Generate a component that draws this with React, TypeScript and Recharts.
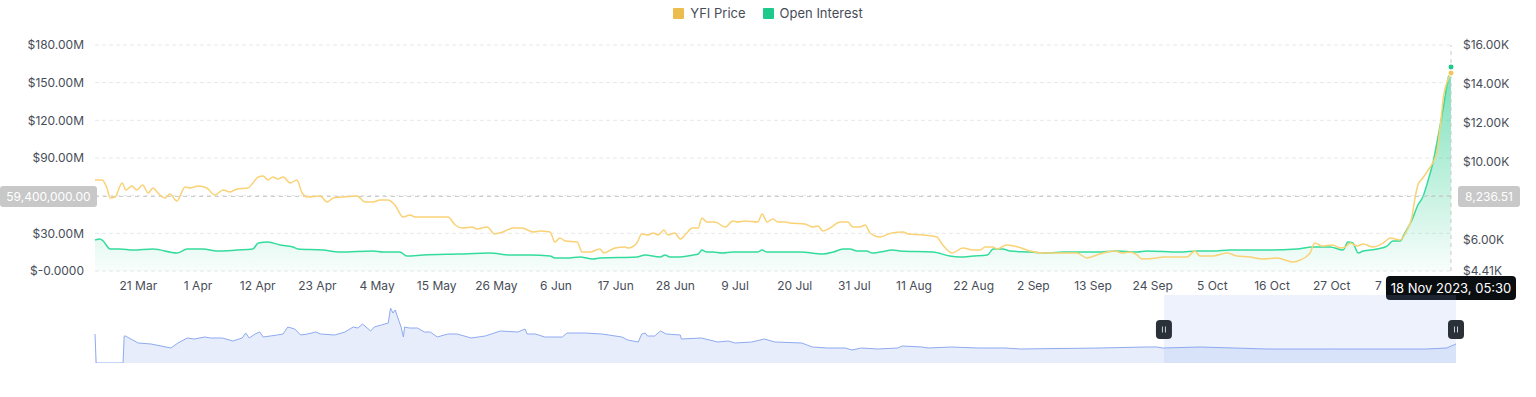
import React from 'react';
import {
  ComposedChart,
  AreaChart,
  Area,
  Line,
  XAxis,
  YAxis,
  CartesianGrid,
  ReferenceLine,
  ReferenceDot,
  ReferenceArea,
} from 'recharts';

const FONT = 'Inter, "Noto Sans", sans-serif';
const TEXT = '#474D57';
const PRICE_COLOR = '#ECBD4E';
const OI_COLOR = '#1DC98B';

// day offsets from 13 Mar 2023
const priceDays = [
  0, 1.3, 2.2, 2.8, 3.7, 5, 5.7, 6.8, 7.7, 8.8, 9.8, 10.7, 11.6, 12.9, 13.8, 15.1, 16.6, 17.5, 19, 20.6,
  22.1, 23.6, 24.9, 26.2, 28.2, 29.1, 30.1, 31, 31.9, 32.8, 33.7, 34.7, 36, 37.2, 38.2, 39.1, 41.5, 42.8, 43.9, 45.7,
  48.3, 49.8, 51.3, 52.5, 54, 55.3, 56.8, 58.1, 59, 65.1, 66.4, 67.8, 69.5, 70.4, 72.3, 73.7, 75.2, 77.1, 78.7, 80.8,
  82, 83.9, 84.8, 85.7, 86.7, 88.9, 89.8, 91.3, 93.1, 93.8, 95.9, 97.7, 98.3, 99.9, 100.8, 102, 102.9, 103.8, 104.9, 105.6,
  106.9, 107.9, 109.1, 110.1, 111.2, 111.9, 112.8, 114.3, 116.2, 117.6, 118.5, 119.8, 122.2, 123, 123.9, 125, 125.9, 127.2, 128.1, 130.9,
  132.2, 133.3, 134.2, 135.5, 137.4, 138.8, 139.7, 141, 142, 142.9, 144.7, 146.9, 149, 149.9, 152.7, 155.2, 156.3, 158, 160, 161.9,
  163.2, 164.1, 165.6, 166.3, 167.2, 168.1, 170.2, 172.4, 174.8, 178.5, 181, 182.9, 184.7, 186.6, 188.1, 189.3, 190.8, 192.1, 193, 195.8,
  196.9, 201.3, 202.8, 203.7, 206.1, 208.7, 210.5, 212.9, 215.3, 217.9, 220.9, 222.2, 224, 224.9, 226.2, 228.2, 229.5, 230.5, 231.4, 232.7,
  233.8, 235.6, 237.5, 238.8, 240.6, 241.9, 242.8, 243.4, 243.9, 244.8, 245.8, 246.7, 247.4, 248, 248.6, 249.4, 250,
];
const priceValues = [
  9077, 9077, 8667, 8154, 8205, 8923, 8564, 8769, 8564, 8821, 8410, 8667, 8410, 8154, 8359, 8000, 8718, 8667, 8769, 8667,
  8308, 8564, 8462, 8615, 8667, 8923, 9231, 9282, 9077, 9231, 9128, 9231, 8923, 9077, 8410, 8205, 8256, 7949, 8154, 8205,
  8256, 7949, 7949, 8051, 8051, 7795, 7179, 7282, 7179, 7179, 6769, 6615, 6667, 6564, 6667, 6308, 6410, 6615, 6615, 6410,
  6462, 6410, 5897, 6103, 5949, 5897, 5385, 5385, 5538, 5333, 5590, 5641, 5590, 5846, 6308, 6256, 6359, 6256, 6513, 6256,
  6359, 6051, 6359, 6615, 6615, 7128, 6923, 6923, 6667, 6974, 6923, 6974, 6923, 7333, 6923, 7077, 6923, 6923, 6872, 6821,
  6667, 6718, 6462, 6615, 6923, 6923, 6667, 6667, 6769, 6359, 6154, 6359, 6410, 6308, 6256, 6154, 5744, 5333, 5590, 5487,
  5487, 5641, 5641, 5538, 5641, 5744, 5641, 5436, 5333, 5333, 5333, 5077, 5231, 5385, 5436, 5333, 5385, 5231, 5026, 5077,
  5128, 5128, 5436, 5179, 5179, 5333, 5179, 5128, 5026, 5077, 4872, 4974, 5333, 5846, 5692, 5744, 5590, 5641, 5846, 5692,
  5795, 5641, 5846, 6103, 6000, 6513, 7179, 8205, 8821, 9179, 9590, 10000, 10513, 11795, 13333, 14205, 14560,
];

// open interest in $M
const oiDays = [
  0, 0.9, 1.5, 2.8, 4.6, 7, 10.7, 15.1, 17, 19.9, 22.5, 26.2, 29.1, 30.1, 31.9, 34.1, 36.5, 37.4, 42, 45.2,
  51.3, 53.1, 56.2, 57.5, 60.5, 66.7, 72.8, 76.5, 80.2, 83.9, 84.8, 87, 89.4, 91.8, 93.1, 99.9, 101.4, 104.2, 105.1, 106,
  107.9, 110.3, 111.2, 111.9, 112.8, 113.9, 115.6, 117.6, 122.1, 123, 123.9, 125.7, 130, 134.2, 136.1, 137.9, 139.2, 140.5, 142.3, 143.3,
  144.7, 147.1, 148.4, 154.5, 157.6, 159.5, 161.9, 164.5, 165.6, 167.4, 168.7, 172.4, 175.5, 178.5, 184.7, 188.4, 192.1, 193.9, 200, 203.2,
  206.1, 209.3, 215.3, 221.6, 224.5, 227.7, 230.1, 231, 231.9, 232.9, 233.8, 236.4, 238.2, 239.3, 240.6, 241.5, 242.8, 243.9, 244.8, 245.8,
  246.7, 247.6, 248.6, 249.4, 250,
];
const oiValues = [
  24.7, 25.5, 23.9, 17.5, 17.5, 16.7, 17.5, 14.3, 17.5, 17.5, 15.9, 16.7, 17.5, 22.3, 23.1, 20.7, 19.1, 17.5, 16.7, 15.1,
  15.9, 15.1, 15.1, 11.9, 12.7, 13.5, 14.3, 12.7, 12.7, 11.9, 10.4, 10.4, 11.2, 9.6, 10.4, 11.2, 12.7, 11.2, 12.7, 11.2,
  11.2, 12.7, 13.5, 16.7, 15.1, 15.1, 14.3, 15.1, 15.1, 16.7, 15.1, 15.1, 15.1, 13.5, 15.1, 17.5, 17.5, 15.9, 15.9, 14.3,
  15.1, 16.7, 15.9, 15.1, 11.9, 11.2, 11.9, 12.7, 17.5, 17.5, 15.9, 15.1, 14.3, 15.1, 15.1, 15.9, 15.1, 15.9, 15.1, 15.9,
  15.9, 16.7, 16.7, 17.5, 19.1, 19.1, 16.7, 23.1, 22.3, 14.3, 15.9, 17.5, 19.9, 23.9, 23.9, 30.3, 40.6, 52.6, 58.9, 72.5,
  86.8, 106.7, 130.6, 152.1, 162.5,
];

// zoom slider overview (full history, same day offsets)
const overviewDays = [
  -915, -914, -891, -890, -889, -878, -867, -850, -844, -836, -830, -821, -816, -806, -797, -789, -786, -783, -778, -774,
  -771, -765, -759, -754, -750, -744, -739, -733, -726, -722, -710, -701, -694, -690, -686, -679, -676, -670, -664, -662,
  -660, -658, -656, -653, -651, -650, -646, -639, -633, -628, -622, -613, -605, -593, -581, -568, -553, -547, -545, -538,
  -530, -515, -511, -496, -481, -464, -459, -450, -447, -444, -442, -436, -431, -426, -414, -413, -396, -382, -373, -367,
  -353, -342, -333, -310, -301, -288, -273, -267, -259, -245, -228, -224, -207, -202, -182, -159, -136, -123, -55, -15,
  -6, -1, 31, 88, 145, 225, 242, 250,
];
const overviewValues = [
  29, 0, 0, 27, 27, 20, 19, 15, 20, 25, 24, 26, 25, 25, 22, 25, 30, 25, 29, 31,
  26, 27, 28, 29, 36, 34, 28, 29, 31, 29, 28, 31, 36, 35, 39, 32, 36, 38, 40, 55,
  50, 53, 46, 36, 26, 36, 35, 35, 31, 31, 26, 29, 29, 25, 27, 32, 31, 34, 29, 29,
  26, 26, 30, 30, 29, 26, 23, 21, 29, 30, 27, 27, 32, 29, 28, 24, 25, 21, 22, 20,
  21, 24, 21, 20, 16, 15, 15, 13, 15, 14, 15, 17, 16, 15, 16, 15, 15, 14, 15, 16,
  16, 15, 16, 14, 14, 14, 15, 19,
];

const xTickDays = [8, 19, 30, 41, 52, 63, 74, 85, 96, 107, 118, 129, 140, 151, 162, 173, 184, 195, 206, 217, 228, 239];
const xTickLabels = [
  '21 Mar', '1 Apr', '12 Apr', '23 Apr', '4 May', '15 May', '26 May', '6 Jun', '17 Jun', '28 Jun', '9 Jul',
  '20 Jul', '31 Jul', '11 Aug', '22 Aug', '2 Sep', '13 Sep', '24 Sep', '5 Oct', '16 Oct', '27 Oct', '7 Nov',
];
const oiTicks = [0, 30, 60, 90, 120, 150, 180];
const priceTicks = [4410, 6000, 8000, 10000, 12000, 14000, 16000];

// hover crosshair state
const crossDay = 250;
const crossOi = 59.4;
const crossPrice = 8236.51;
const crossLabel = '18 Nov 2023, 05:30';
const sliderRange = [0, 250];

const priceData = priceDays.map((d, i) => ({ d, v: priceValues[i] }));
const oiData = oiDays.map((d, i) => ({ d, v: oiValues[i] }));
const overviewData = overviewDays.map((d, i) => ({ d, v: overviewValues[i] }));

// tick labels sitting under the crosshair tags are hidden, like in the original
const fmtOi = (v: number) => (Math.abs(v - crossOi) < 5 ? '' : v === 0 ? '$-0.0000' : `$${v.toFixed(2)}M`);
const fmtPrice = (v: number) => (Math.abs(v - crossPrice) < 500 ? '' : `$${(v / 1000).toFixed(2)}K`);
const fmtNum = (v: number) => v.toLocaleString('en-US', { minimumFractionDigits: 2, maximumFractionDigits: 2 });

const tickStyle = { fontSize: 12, fill: TEXT, fontFamily: FONT };

const HLabel = ({ viewBox }: any) => {
  const { x, y, width } = viewBox;
  const right = x + width;
  return (
    <g fontFamily={FONT} fontSize={12}>
      <rect x={x - 95} y={y - 10.5} width={97} height={21} rx={3} fill="#C8C8C8" />
      <text x={x - 46.5} y={y} dy="0.35em" textAnchor="middle" fill="#fff">
        {fmtNum(crossOi * 1e6)}
      </text>
      <rect x={right + 7} y={y - 10.5} width={62} height={21} rx={3} fill="#C8C8C8" />
      <text x={right + 38} y={y} dy="0.35em" textAnchor="middle" fill="#fff">
        {fmtNum(crossPrice)}
      </text>
    </g>
  );
};

const VLabel = ({ viewBox }: any) => {
  const { x, y, height } = viewBox;
  const bottom = y + height;
  return (
    <g fontFamily={FONT}>
      <rect x={x - 65} y={bottom + 5} width={130} height={24} rx={4} fill="#0B0E11" />
      <text x={x} y={bottom + 17} dy="0.35em" textAnchor="middle" fill="#fff" fontSize={13}>
        {crossLabel}
      </text>
    </g>
  );
};

const SliderWindow = (props: any) => {
  const { x, y, width, height } = props;
  const handle = (hx: number) => (
    <g>
      <rect x={hx - 8} y={y + height / 2 - 9} width={16} height={19} rx={4} fill="#2B3139" />
      <line x1={hx - 1.5} x2={hx - 1.5} y1={y + height / 2 - 2.5} y2={y + height / 2 + 3.5} stroke="#C9CED6" />
      <line x1={hx + 1.5} x2={hx + 1.5} y1={y + height / 2 - 2.5} y2={y + height / 2 + 3.5} stroke="#C9CED6" />
    </g>
  );
  return (
    <g>
      <rect x={x} y={y} width={width} height={height} fill="rgb(135,165,240)" fillOpacity={0.15} />
      {handle(x)}
      {handle(x + width)}
    </g>
  );
};

const chartMargin = { top: 45, right: 0, bottom: 0, left: 0 };

export default function App() {
  const last = priceData[priceData.length - 1];
  const lastOi = oiData[oiData.length - 1];
  return (
    <div style={{ position: 'absolute', left: 0, top: 0, width: 1536, height: 397, background: '#fff', fontFamily: FONT }}>
      <div
        style={{
          position: 'absolute',
          top: 5,
          left: 0,
          width: 1536,
          display: 'flex',
          justifyContent: 'center',
          gap: 17,
          fontSize: 13,
          lineHeight: '16px',
          color: TEXT,
        }}
      >
        {[
          ['YFI Price', PRICE_COLOR],
          ['Open Interest', OI_COLOR],
        ].map(([name, color]) => (
          <div key={name} style={{ display: 'flex', alignItems: 'center' }}>
            <span style={{ width: 11, height: 11, background: color, borderRadius: 1, marginRight: 6 }} />
            {name}
          </div>
        ))}
      </div>

      <div style={{ position: 'absolute', top: 0, left: 0 }}>
        <ComposedChart width={1536} height={305} margin={chartMargin}>
          <defs>
            <linearGradient id="oiFill" x1="0" y1="0" x2="0" y2="1">
              <stop offset="0%" stopColor="#1ECB8B" stopOpacity={0.6} />
              <stop offset="100%" stopColor="#1ECB8B" stopOpacity={0.03} />
            </linearGradient>
          </defs>
          <CartesianGrid yAxisId="oi" vertical={false} stroke="#E6E8EA" strokeDasharray="4 3" />
          <XAxis
            type="number"
            dataKey="d"
            domain={[0, 250]}
            ticks={xTickDays}
            interval={0}
            tickFormatter={(v: number) => xTickLabels[xTickDays.indexOf(v)]}
            axisLine={false}
            tickLine={false}
            height={34}
            tickMargin={4}
            tick={tickStyle}
          />
          <YAxis
            yAxisId="oi"
            orientation="left"
            width={95}
            domain={[0, 180]}
            ticks={oiTicks}
            interval={0}
            tickFormatter={fmtOi}
            axisLine={false}
            tickLine={false}
            tickMargin={5}
            tick={tickStyle}
          />
          <YAxis
            yAxisId="price"
            orientation="right"
            width={85}
            domain={[4410, 16000]}
            ticks={priceTicks}
            interval={0}
            tickFormatter={fmtPrice}
            axisLine={false}
            tickLine={false}
            tickMargin={6}
            tick={tickStyle}
          />
          <ReferenceLine yAxisId="oi" y={crossOi} stroke="#C8C8C8" strokeDasharray="4 4" />
          <ReferenceLine yAxisId="oi" x={crossDay} stroke="#C8C8C8" strokeDasharray="4 4" />
          <Line
            yAxisId="price"
            data={priceData}
            dataKey="v"
            type="monotone"
            stroke="#FAD276"
            strokeWidth={1.5}
            dot={false}
            isAnimationActive={false}
          />
          <Area
            yAxisId="oi"
            data={oiData}
            dataKey="v"
            type="monotone"
            stroke="#34DC9C"
            strokeWidth={1.5}
            fill="url(#oiFill)"
            fillOpacity={1}
            dot={false}
            isAnimationActive={false}
          />
          <ReferenceDot yAxisId="price" x={last.d} y={last.v} r={3} fill="#F4C55A" stroke="#fff" strokeWidth={1} />
          <ReferenceDot yAxisId="oi" x={lastOi.d} y={lastOi.v} r={3} fill="#1DC98B" stroke="#fff" strokeWidth={1} />
        </ComposedChart>
      </div>

      {/* crosshair tags, drawn above the axis ticks */}
      <div style={{ position: 'absolute', top: 0, left: 0 }}>
        <ComposedChart width={1536} height={305} margin={{ top: 45, right: 85, bottom: 34, left: 95 }}>
          <XAxis type="number" dataKey="d" domain={[0, 250]} hide />
          <YAxis yAxisId="oi" domain={[0, 180]} hide />
          <Line
            yAxisId="oi"
            data={oiData}
            dataKey="v"
            stroke="none"
            dot={false}
            activeDot={false}
            isAnimationActive={false}
          />
          <ReferenceLine yAxisId="oi" y={crossOi} stroke="none" label={<HLabel />} />
          <ReferenceLine yAxisId="oi" x={crossDay} stroke="none" label={<VLabel />} />
        </ComposedChart>
      </div>

      <div style={{ position: 'absolute', top: 290, left: 0 }}>
        <AreaChart width={1536} height={73} data={overviewData} margin={{ top: 5, right: 80, bottom: 0, left: 95 }}>
          <XAxis type="number" dataKey="d" domain={[-915, 250]} hide />
          <YAxis domain={[0, 68]} hide />
          <Area
            dataKey="v"
            type="linear"
            stroke="#8FAAF0"
            strokeWidth={1}
            fill="#E7EDFB"
            fillOpacity={1}
            isAnimationActive={false}
          />
          <ReferenceArea x1={sliderRange[0]} x2={sliderRange[1]} y1={0} y2={68} shape={<SliderWindow />} />
        </AreaChart>
      </div>
    </div>
  );
}
